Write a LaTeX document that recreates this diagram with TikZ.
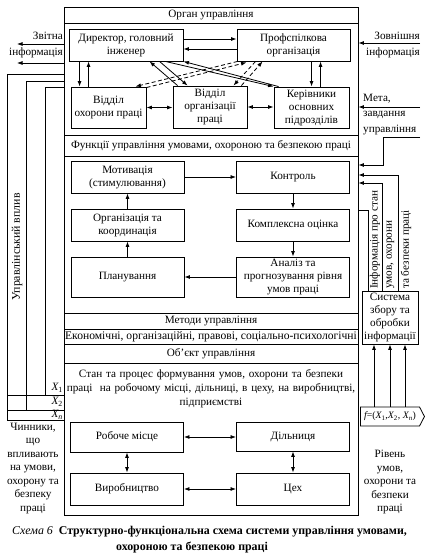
\documentclass[tikz,border=0pt]{standalone}
\usepackage{fontspec}
\setmainfont{Liberation Serif}
\usetikzlibrary{arrows.meta,shapes.symbols}

\tikzset{
  frame/.style={draw, line width=0.9pt, inner sep=0pt},
  row/.style={frame, minimum width=294pt, font=\fontsize{11.2}{12}\selectfont},
  box/.style={frame, align=center, font=\fontsize{11.2}{13}\selectfont},
  fbox/.style={box, minimum width=113pt, minimum height=32pt},
  lbl/.style={inner sep=0pt, align=center, font=\fontsize{11.2}{13.5}\selectfont},
  arr/.style={line width=0.8pt, -{Latex[length=5.5pt,width=4pt]}},
  darr/.style={line width=0.8pt, {Latex[length=5.5pt,width=4pt]}-{Latex[length=5.5pt,width=4pt]}},
  dasharr/.style={arr, dash pattern=on 4pt off 2.5pt},
  ln/.style={line width=0.8pt}
}

\begin{document}
\begin{tikzpicture}[x=1pt,y=-1pt]
\useasboundingbox (0,0) rectangle (427,559);

\node[frame, minimum width=294pt, minimum height=508pt] (upr) at (211,261) {};
\node[row, minimum height=16pt] (organ) at (211,15) {Орган управління};
\node[row, minimum height=21pt] (funk) at (211,145.5) {Функції управління умовами, охороною та безпекою праці};
\node[row, minimum height=16pt] (metod) at (211,321) {Методи управління};
\node[row, minimum height=15pt, font=\fontsize{11.6}{12}\selectfont] (ekon) at (211,336.5) {Економічні, організаційні, правові, соціально-психологічні};
\node[row, minimum height=19pt] (obj) at (211,353.5) {Об’єкт управління};

\node[box, minimum width=114pt, minimum height=32pt] (dir) at (126,45) {Директор, головний\\інженер};
\node[box, minimum width=113pt, minimum height=32pt] (prof) at (293.5,45) {Профспілкова\\організація};
\node[box, minimum width=75pt, minimum height=41pt] (vop) at (108.5,107.5) {Відділ\\охорони праці};
\node[box, minimum width=74pt, minimum height=42pt] (vorg) at (210,107) {Відділ\\організації\\праці};
\node[box, minimum width=75pt, minimum height=41pt] (kerivn) at (311.5,107.5) {Керівники\\основних\\підрозділів};

\node[fbox] (motiv) at (127.5,177) {Мотивація\\(стимулювання)};
\node[fbox] (orgk) at (127.5,225) {Організація та\\координація};
\node[fbox, minimum height=40pt] (plan) at (127.5,277) {Планування};
\node[fbox] (kontr) at (293,177) {Контроль};
\node[fbox] (kompl) at (293,225) {Комплексна оцінка};
\node[fbox, minimum height=40pt] (analiz) at (293,277) {Аналіз та\\прогнозування рівня\\умов праці};

\node[lbl, text width=292pt, font=\fontsize{11.2}{14}\selectfont] (stan) at (211,389) {Стан та процес формування умов, охорони та безпеки праці\ \ на робочому місці, дільниці, в цеху, на виробництві,\\підприємстві};
\node[fbox, minimum height=30pt] (robm) at (127,437) {Робоче місце};
\node[fbox] (vyrob) at (127,489) {Виробництво};
\node[fbox, minimum height=29pt] (diln) at (293,436.5) {Дільниця};
\node[fbox] (tsekh) at (293,489) {Цех};

\node[box, minimum width=56pt, minimum height=53pt] (system) at (390,317.5) {Система\\збору та\\обробки\\інформації};
\node[draw, line width=0.8pt, signal, signal to=east, signal pointer angle=125, minimum width=64pt, minimum height=19pt, inner sep=0pt, font=\fontsize{9.8}{11}\selectfont] (fx) at (390,416.5) {\itshape f\upshape=(\itshape X\upshape\textsubscript{1},\itshape X\upshape\textsubscript{2},\ \itshape X\upshape\textsubscript{\itshape n})};

\draw[arr] ([yshift=6pt]dir.east) -- ([yshift=6pt]prof.west);
\draw[arr] ([yshift=-4pt]prof.west) -- ([yshift=-4pt]dir.east);
\draw[arr] ([xshift=11pt]dir.south west) -- ([xshift=9pt]vop.north west);
\draw[arr] ([xshift=18pt]vop.north west) -- ([xshift=20pt]dir.south west);
\draw[darr] (vop.east) -- (vop.east -| vorg.west);
\draw[darr] (vorg.east) -- (vorg.east -| kerivn.west);
\draw[arr] ([xshift=75pt]prof.south west) -- ([xshift=38pt]kerivn.north west);
\draw[arr] ([xshift=47pt]kerivn.north west) -- ([xshift=84pt]prof.south west);
\draw[arr] ([xshift=5pt]vorg.north west) -- ([xshift=81pt]dir.south west);
\draw[arr] ([xshift=91pt]dir.south west) -- ([xshift=15pt]vorg.north west);
\draw[arr] ([xshift=-18pt]dir.south east) -- (kerivn.north west);
\draw[arr] ([xshift=5pt]kerivn.north west) -- (dir.south east);
\draw[dasharr] ([xshift=1pt]prof.south west) -- ([xshift=-11pt]vop.north east);
\draw[dasharr] ([yshift=-1pt]vop.north east) -- ([xshift=10pt,yshift=-1pt]prof.south west);
\draw[dasharr] ([xshift=19pt]prof.south west) -- ([xshift=-14pt]vorg.north east);
\draw[dasharr] ([xshift=-6pt]vorg.north east) -- ([xshift=26pt]prof.south west);

\draw[arr] (motiv.east) -- (motiv.east -| kontr.west);
\draw[arr] (kontr.south) -- (kompl.north);
\draw[arr] (kompl.south) -- (analiz.north);
\draw[arr] (analiz.west) -- (analiz.west -| plan.east);
\draw[arr] (plan.north) -- (orgk.south);
\draw[arr] (orgk.north) -- (motiv.south);

\draw[darr] (robm.east) -- (robm.east -| diln.west);
\draw[darr] (vyrob.east) -- (vyrob.east -| tsekh.west);
\draw[darr] (robm.south) -- (vyrob.north);
\draw[darr] (diln.south) -- (tsekh.north);

\node[lbl, align=right, anchor=east, font=\fontsize{11.2}{16}\selectfont] (zvit) at (63,45) {Звітна\\інформація};
\coordinate (zv1) at (17,44);
\coordinate (zv2) at (17,63);
\draw[arr] (zv1 -| upr.west) -- (zv1);
\draw[arr] (zv2 -| upr.west) -- (zv2);

\coordinate (vp1) at (7,74);
\coordinate (vp2) at (26,81);
\coordinate (vp3) at (45,87);
\coordinate (xr1) at (7,395);
\coordinate (xr2) at (7,410);
\coordinate (xr3) at (7,420);
\draw[ln] (vp1 -| upr.west) -- (vp1) |- (xr3 -| upr.west);
\draw[ln] (vp2 -| upr.west) -- (vp2) -- (vp2 |- xr2);
\draw[ln] (vp3 -| upr.west) -- (vp3) -- (vp3 |- xr1);
\draw[ln] (xr1) -- (xr1 -| upr.west);
\draw[ln] (xr2) -- (xr2 -| upr.west);
\node[lbl, rotate=90, font=\fontsize{11.8}{13}\selectfont] (vplyv) at (17,247) {Управлінський вплив};
\node[lbl, anchor=east] (x1) at (63,388) {\itshape X\upshape\textsubscript{1}};
\node[lbl, anchor=east] (x2) at (63,402) {\itshape X\upshape\textsubscript{2}};
\node[lbl, anchor=east] (xn) at (63,415) {\itshape X\textsubscript{n}};
\node[lbl] (chynn) at (33,468.5) {Чинники,\\що\\впливають\\на умови,\\охорону та\\безпеку\\праці};

\node[lbl, align=right, anchor=east, font=\fontsize{11.2}{16}\selectfont] (zovn) at (420,45) {Зовнішня\\інформація};
\node[lbl, align=left, anchor=west, font=\fontsize{11.2}{15.5}\selectfont] (meta) at (363,114.5) {Мета,\\завдання\\управління};
\coordinate (zo1) at (420,43);
\coordinate (me1) at (420,107);
\coordinate (me2) at (420,137);
\coordinate (in1) at (383,165);
\coordinate (in2) at (383,175);
\coordinate (in3) at (383,183);
\coordinate (out1) at (368,210);
\draw[arr] (zo1) -- (zo1 -| upr.east);
\draw[arr] (me1) -- (me1 -| upr.east);
\draw[arr] (me2) -| (in1) -- (in1 -| upr.east);
\draw[arr] ([xshift=8pt]system.north) |- (in2 -| upr.east);
\draw[arr] ([xshift=-8pt]system.north) |- (in3 -| upr.east);
\draw[ln] (out1 -| upr.east) -- (out1) -- (out1 |- system.north);
\node[lbl, rotate=90, anchor=west] (inf1) at (375,289) {Інформація про стан};
\node[lbl, rotate=90, anchor=west] (inf2) at (390.5,289) {умов, охорони};
\node[lbl, rotate=90, anchor=west] (inf3) at (406,289) {та безпеки праці};
\foreach \dx in {-16,0,15}
  \draw[arr] ([xshift=\dx pt]fx.north) -- ([xshift=\dx pt]system.south);
\node[lbl] (riven) at (390,482) {Рівень\\умов,\\охорони та\\безпеки\\праці};

\node[anchor=west, inner sep=0pt, font=\fontsize{11.9}{13}\selectfont] (capt1) at (12,532) {\textit{Схема 6}\enspace\textbf{Структурно-функціональна схема системи управління умовами,}};
\node[inner sep=0pt, font=\fontsize{11.9}{13}\selectfont] (capt2) at (192,548) {\textbf{охороною та безпекою праці}};
\end{tikzpicture}
\end{document}
